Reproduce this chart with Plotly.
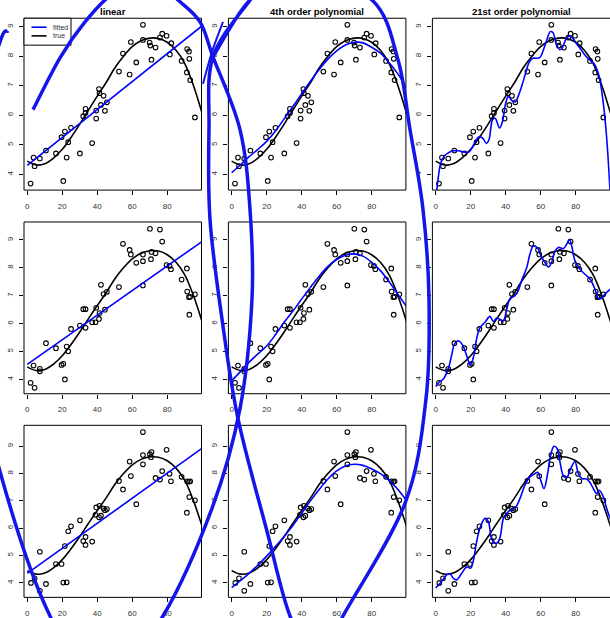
import plotly.graph_objects as go

W, H = 610, 618

# ---------------- data ----------------
row1_x = [1.9,3.6,4.2,7.2,10.7,16.4,19.6,20.6,21.5,22.5,23.4,25.0,30.1,32.0,33.3,33.3,37.1,39.4,39.4,41.0,41.3,42.1,43.6,44.4,45.5,52.4,54.7,58.5,59.2,62.3,66.1,66.1,69.9,70.3,71.0,73.3,75.8,77.1,79.6,81.5,82.3,88.2,91.2,91.4,92.4,92.6,93.1,95.8]
row1_y = [3.69,4.57,4.28,4.54,4.81,4.71,5.26,3.78,5.45,4.57,5.09,5.58,4.71,5.97,6.22,6.08,5.06,5.89,6.16,6.89,6.75,6.35,6.66,6.15,6.44,7.48,8.09,7.38,8.48,7.79,8.55,9.06,8.46,8.36,7.88,8.29,8.63,8.76,8.69,8.06,8.44,7.84,7.45,8.24,8.16,7.91,7.19,5.93]

row2_x = [1.9,3.6,4.2,7.2,7.2,10.7,16.4,19.6,20.6,21.5,22.5,23.4,25.0,30.1,32.0,33.3,33.3,37.1,39.0,39.4,41.0,41.3,42.1,43.6,44.4,45.5,52.4,54.7,58.5,59.2,62.3,66.1,66.1,66.1,70.1,70.7,71.0,73.3,75.8,77.1,79.6,81.3,82.1,88.2,91.2,91.4,92.4,92.6,93.1,95.8]
row2_y = [3.88,4.50,3.70,4.38,4.29,5.30,5.12,4.52,4.56,4.00,5.18,5.01,5.81,5.93,6.52,6.52,5.85,6.05,6.05,6.57,6.17,6.38,7.39,7.06,6.50,7.14,7.31,8.86,8.64,8.48,8.18,8.48,8.24,7.37,9.40,8.31,8.57,8.52,9.37,8.94,8.10,8.07,7.95,7.58,7.98,7.15,6.95,6.32,6.96,7.05]

row3_x = [2.1,4.2,7.2,7.2,10.7,16.4,19.6,20.6,21.5,22.5,23.4,25.0,30.1,32.0,33.3,33.3,37.1,39.0,39.4,41.0,41.3,42.1,43.6,44.4,45.5,52.4,54.7,58.5,59.2,62.3,66.1,66.1,66.1,70.1,70.7,71.0,73.3,75.8,77.1,79.6,81.3,82.1,88.2,91.2,91.4,92.4,92.6,93.1,95.8]
row3_y = [4.00,4.17,3.71,5.14,3.96,4.69,4.69,4.01,5.35,4.02,5.89,6.07,6.29,5.53,5.39,5.68,5.51,6.49,6.76,6.40,6.82,6.46,6.72,6.66,6.70,7.73,7.42,8.44,7.91,6.88,8.68,8.34,9.52,8.71,8.60,8.79,7.84,7.78,8.09,8.87,7.99,7.72,7.88,6.57,7.72,7.70,7.14,7.72,7.02]

grid_x = [0,5,10,15,20,25,30,35,40,45,50,55,60,65,70,75,80,85,90,95,100]
true_y = [4.45,4.32,4.36,4.55,4.85,5.25,5.70,6.18,6.65,7.10,7.60,8.00,8.32,8.52,8.61,8.60,8.47,8.20,7.75,7.00,6.05]

lin_x = [0, 100]
lin_row1 = [4.31, 9.03]
lin_row2 = [4.54, 8.95]
lin_row3 = [4.35, 8.93]

poly4_row1 = [4.06,4.32,4.60,4.85,5.12,5.47,5.88,6.30,6.73,7.15,7.55,7.90,8.18,8.38,8.47,8.45,8.30,8.10,7.78,7.40,6.90]
poly4_row2 = [3.95,4.28,4.62,4.92,5.20,5.60,6.05,6.45,6.88,7.30,7.70,8.05,8.30,8.45,8.50,8.42,8.20,7.90,7.50,7.05,6.60]
poly4_row3 = [3.83,4.08,4.35,4.65,4.98,5.33,5.70,6.10,6.55,7.00,7.42,7.80,8.10,8.28,8.34,8.30,8.17,8.00,7.75,7.42,7.00]

poly21_row1_x = [0.4,1.5,3,5,7,10,13,16,19,21,23,25,27,29,30.5,32.5,34,36.5,38,40,41.5,43.5,45.5,47.5,49.5,51.5,53.5,55.5,57.5,59.5,61.5,63.5,65.5,67,69,71,72.5,74.5,76.5,78.5,80.5,82.5,84.5,86.5,88.5,90.5,92.5,94,96,97.5,99,100]
poly21_row1_y = [3.3,3.9,4.4,4.62,4.72,4.8,4.8,4.76,4.76,4.92,5.15,5.28,5.22,5.05,5.18,5.85,5.9,5.57,5.75,6.4,6.64,6.5,6.45,6.7,7.05,7.45,7.8,7.93,7.93,7.95,8.2,8.55,8.83,8.8,8.4,8.22,8.3,8.58,8.68,8.6,8.42,8.27,8.1,7.96,7.85,7.75,7.5,7.15,6.3,5.4,4.1,3.0]

poly21_row2_x = [0,2,4.4,7.2,9.1,11,13.3,15.5,17.7,19.8,21.6,23.4,25.3,28.2,31,33,34.9,36.8,38.7,40.6,42.5,45.3,47.2,49.1,52,53.9,55.8,58.1,60.6,62.5,64.4,66.3,68.2,70.1,73,74.9,76.4,77.7,79.6,82.5,85.3,88.2,91,93,94.9,96.8,100]
poly21_row2_y = [3.75,3.9,4.02,4.38,4.86,5.3,5.38,5.22,4.86,4.52,4.8,5.45,5.85,6.05,6.26,6.08,6.2,6.15,6.1,6.52,6.9,7.0,7.18,7.54,8.0,8.5,8.78,8.72,8.37,8.19,8.03,8.2,8.6,8.73,8.69,8.85,9.02,8.8,8.25,7.95,7.77,7.6,7.24,6.9,6.92,7.06,7.25]

poly21_row3_x = [0,3.4,6.3,8.2,10.1,12,14.9,17.7,20,21.5,23.4,25.3,28.2,30.1,32,33.9,35.8,37.1,38.7,40.6,42.5,45.3,48.2,51,53.9,56.8,58.3,60,61.9,63.8,65.7,67.6,69.5,71,73.3,75.2,77.1,79.6,81.5,83.4,86.3,88.2,90.1,92,93.5,95.8,97.7,100]
poly21_row3_y = [3.81,4.05,4.29,4.33,4.17,4.11,4.35,4.58,4.54,4.8,5.5,6.0,6.36,6.24,5.6,5.45,5.5,5.75,6.36,6.54,6.66,6.73,7.09,7.58,7.88,8.0,8.05,7.76,7.45,7.94,8.67,9.0,8.91,8.43,7.88,7.88,8.18,8.43,8.0,7.82,7.8,7.67,7.45,7.27,7.39,7.15,6.73,6.3]

titles = ["linear", "4th order polynomial", "21st order polynomial"]
x_ticks = [0, 20, 40, 60, 80]
y_ticks = [4, 5, 6, 7, 8, 9]
legend_labels = ["fitted", "true"]

rows_pts = [(row1_x, row1_y), (row2_x, row2_y), (row3_x, row3_y)]
fits = [
    [(lin_x, lin_row1), (grid_x, poly4_row1), (poly21_row1_x, poly21_row1_y)],
    [(lin_x, lin_row2), (grid_x, poly4_row2), (poly21_row2_x, poly21_row2_y)],
    [(lin_x, lin_row3), (grid_x, poly4_row3), (poly21_row3_x, poly21_row3_y)],
]

# ---------------- layout geometry (pixels) ----------------
col_px = [(24.0, 201.5), (228.4, 405.9), (432.4, 609.9)]
row_px = [(18.3, 190.7), (222.7, 395.0), (426.7, 599.3)]
y_ranges = [(3.471, 9.283), (3.489, 9.643), (3.47, 9.766)]
x_range = (-1.86, 99.56)

BLUE = "#0000ff"
FONT = "Liberation Sans, Arial, sans-serif"

def PX(x):
    return x / W

def PY(y):
    return 1 - y / H

fig = go.Figure()
layout = dict(
    width=W, height=H, margin=dict(l=0, r=0, t=0, b=0),
    paper_bgcolor="white", plot_bgcolor="white", showlegend=False,
    font=dict(family=FONT, color="#222"),
)
shapes = []
annotations = []

for r in range(3):
    for c in range(3):
        k = r * 3 + c + 1
        xa = "x" if k == 1 else f"x{k}"
        ya = "y" if k == 1 else f"y{k}"
        l, rt = col_px[c]
        t, b = row_px[r]
        layout["xaxis" if k == 1 else f"xaxis{k}"] = dict(
            domain=[PX(l), min(PX(rt), 1.0)], anchor=ya, range=list(x_range),
            tickvals=x_ticks, ticks="outside", ticklen=4, tickwidth=1, tickcolor="black",
            showgrid=False, zeroline=False, showline=False,
            tickfont=dict(size=8, family=FONT, color="#333"), ticklabelstandoff=4,
        )
        layout["yaxis" if k == 1 else f"yaxis{k}"] = dict(
            domain=[PY(b), PY(t)], anchor=xa, range=list(y_ranges[r]),
            tickvals=y_ticks, ticks="outside", ticklen=4, tickwidth=1, tickcolor="black",
            showgrid=False, zeroline=False, showline=False, tickangle=-90,
            tickfont=dict(size=8, family=FONT, color="#333"), ticklabelstandoff=3,
        )
        # box
        rr = rt if c < 2 else 611
        shapes.append(dict(type="rect", xref="paper", yref="paper",
                           x0=PX(l), x1=PX(rr), y0=PY(b), y1=PY(t),
                           line=dict(color="black", width=1), layer="above"))
        px_, py_ = rows_pts[r]
        fx, fy = fits[r][c]
        fig.add_trace(go.Scatter(x=px_, y=py_, mode="markers", xaxis=xa, yaxis=ya,
                                 marker=dict(symbol="circle-open", size=4.6, color="black",
                                             line=dict(width=1.1, color="black"))))
        fig.add_trace(go.Scatter(x=grid_x, y=true_y, mode="lines", xaxis=xa, yaxis=ya,
                                 line=dict(color="black", width=1.6, shape="spline", smoothing=1.0)))
        fig.add_trace(go.Scatter(x=fx, y=fy, mode="lines", xaxis=xa, yaxis=ya,
                                 line=dict(color=BLUE, width=1.6,
                                           shape="spline" if c > 0 else "linear", smoothing=1.0)))

# titles
for c in range(3):
    l, rt = col_px[c]
    annotations.append(dict(x=PX((l + rt) / 2), y=PY(12), xref="paper", yref="paper",
                            text=f"<b>{titles[c]}</b>", showarrow=False,
                            font=dict(size=9.5, family=FONT, color="black"),
                            xanchor="center", yanchor="middle"))

# legend in first panel
shapes.append(dict(type="rect", xref="paper", yref="paper", x0=PX(24), x1=PX(71),
                   y0=PY(45.3), y1=PY(18.3), line=dict(color="black", width=1),
                   fillcolor="white", layer="above"))
for i, (lab, colr) in enumerate(zip(legend_labels, [BLUE, "black"])):
    yy = 27.3 + i * 8.7
    shapes.append(dict(type="line", xref="paper", yref="paper", x0=PX(31.5), x1=PX(46.5),
                       y0=PY(yy), y1=PY(yy), line=dict(color=colr, width=1.6), layer="above"))
    annotations.append(dict(x=PX(51), y=PY(yy), xref="paper", yref="paper", text=lab,
                            showarrow=False, xanchor="left", yanchor="middle",
                            font=dict(size=7, family=FONT, color="#333")))

# hand-drawn blue ovals
def smooth_path(pts):
    P = [pts[0]] + pts + [pts[-1]]
    d = f"M {PX(P[1][0]):.5f},{PY(P[1][1]):.5f}"
    for i in range(1, len(P) - 2):
        p0, p1, p2, p3 = P[i - 1], P[i], P[i + 1], P[i + 2]
        c1 = (p1[0] + (p2[0] - p0[0]) / 6, p1[1] + (p2[1] - p0[1]) / 6)
        c2 = (p2[0] - (p3[0] - p1[0]) / 6, p2[1] - (p3[1] - p1[1]) / 6)
        d += (f" C {PX(c1[0]):.5f},{PY(c1[1]):.5f} {PX(c2[0]):.5f},{PY(c2[1]):.5f}"
              f" {PX(p2[0]):.5f},{PY(p2[1]):.5f}")
    return d

oval_a = [(213, 57), (250, 0), (300, -32), (372, 0), (398, 60), (410, 130), (423, 210),
          (429, 300), (426, 400), (405, 505), (343, 618), (318, 665), (290, 618),
          (267, 533), (238, 420), (222, 320), (210, 220), (209, 130), (213, 57), (250, 0)]
oval_a_tail = [(203, 84), (212, 52), (223, 22)]
oval_b = [(33, 110), (60, 58), (85, 22), (112, -6), (148, -25), (178, 0), (200, 22),
          (213, 57), (240, 130), (250, 210), (252, 300), (240, 410), (212, 510),
          (163, 618), (105, 690), (50, 618), (0, 473), (-38, 300), (-25, 130), (0, 42), (8, 31)]

for pts, wdt in [(oval_a, 3.5), (oval_a_tail, 2.0), (oval_b, 3.5)]:
    shapes.append(dict(type="path", xref="paper", yref="paper", path=smooth_path(pts),
                       line=dict(color="rgb(20,20,235)", width=wdt), layer="above"))

layout["shapes"] = shapes
layout["annotations"] = annotations
fig.update_layout(**layout)
fig.write_html("out.html")
